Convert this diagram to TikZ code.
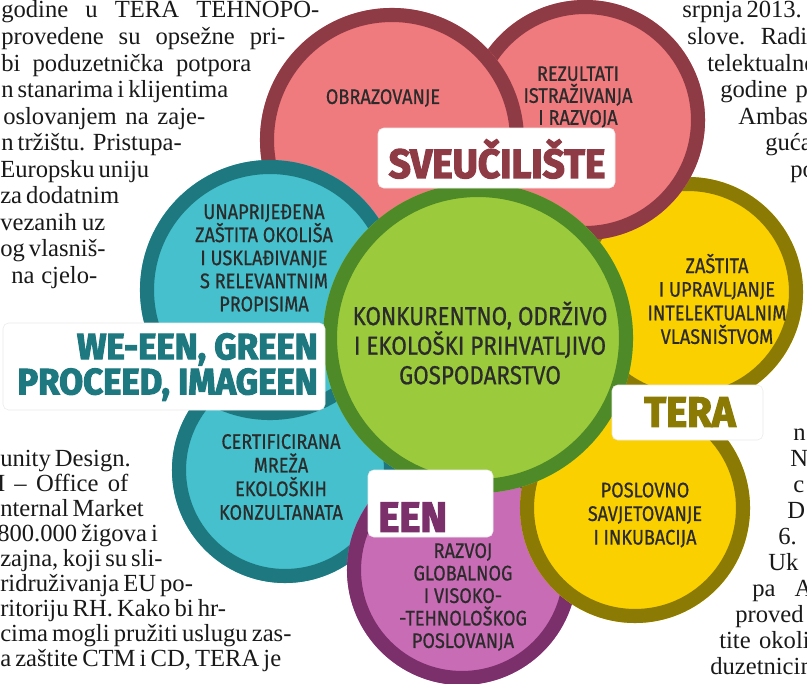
\documentclass[tikz,border=0pt]{standalone}
\usepackage{fontspec}
\setmainfont{Liberation Serif}
\newfontfamily\dinfont[FakeStretch=0.86,FakeBold=0.6]{Fira Sans}
\newfontfamily\heavyfont[FakeStretch=0.95,BoldFeatures={FakeBold=3}]{Fira Sans}
\usetikzlibrary{positioning}
\newdimen\pxlen \pxlen=0.025cm

\definecolor{pinkfill}{HTML}{EF7B7E}
\definecolor{pinkring}{HTML}{8E3B45}
\definecolor{tealfill}{HTML}{45C0CC}
\definecolor{tealring}{HTML}{1E7880}
\definecolor{greenfill}{HTML}{9BCB3C}
\definecolor{greenring}{HTML}{4E8A27}
\definecolor{yellowfill}{HTML}{FBD000}
\definecolor{yellowring}{HTML}{8B7B05}
\definecolor{purplefill}{HTML}{C96CB6}
\definecolor{purplering}{HTML}{7B2F6B}
\definecolor{inktext}{HTML}{2B2B2B}

\tikzset{petal text/.style={align=center, text=inktext, inner sep=0pt, font=\dinfont\fontsize{15}{16.8}\selectfont}}
\tikzset{tag box/.style={fill=white, draw=black!8, rounded corners=4pt}}
\tikzset{tag text/.style={inner sep=0pt, font=\heavyfont\bfseries\fontsize{29}{25}\selectfont}}
\tikzset{article line/.style={inner sep=0pt, anchor=base west, text=black!90, font=\fontsize{17.5}{20}\selectfont}}

% centre, radius, fill, ring
\newcommand\petal[4]{%
  \fill[#3] #1 circle[radius=#2];
  \draw[#4, line width=10pt] #1 circle[radius=#2-7];}
% name, x, baseline, width, text
\newcommand\artline[5]{\node[article line] (#1) at (#2,#3) {\makebox[#4\pxlen][s]{#5}};}

\begin{document}
\begin{tikzpicture}[x=0.025cm, y=-0.025cm]
\useasboundingbox (0,0) rectangle (807,683);
\clip (0,0) rectangle (807,683);
\fill[white] (0,0) rectangle (807,683);

% article columns
\artline{l1}{1}{18}{318}{godine u TERA TEHNOPO-}
\artline{l2}{1}{44.5}{284}{provedene su opsežne pri-}
\artline{l3}{1}{71}{250}{bi poduzetnička potpora}
\artline{l4}{1}{97.5}{226}{n stanarima i klijentima}
\artline{l5}{3}{124}{202}{oslovanjem na zaje-}
\artline{l6}{1}{150.5}{179}{n tržištu. Pristupa-}
\artline{l7}{0}{177}{146}{Europsku uniju}
\artline{l8}{0}{203.5}{118}{za dodatnim}
\artline{l9}{0}{230}{105}{vezanih uz}
\artline{l10}{0}{256.5}{90}{og vlasniš-}
\artline{l11}{11}{283}{86}{na cjelo-}

\artline{b1}{0}{466}{130}{unity Design.}
\artline{b2}{-17}{491}{145}{M – Office of}
\artline{b3}{0}{516}{135}{nternal Market}
\artline{b4}{-3}{541}{135}{800.000 žigova i}
\artline{b5}{0}{566}{155}{zajna, koji su sli-}
\artline{b6}{0}{591}{187}{ridruživanja EU po-}
\artline{b7}{0}{616}{213}{ritoriju RH. Kako bi hr-}
\artline{b8}{0}{641}{248}{cima mogli pružiti uslugu zas-}
\artline{b9}{0}{666}{248}{a zaštite CTM i CD, TERA je}

\artline{r1}{682}{18}{116}{srpnja 2013.}
\artline{r2}{687}{44.5}{120}{slove. Radi}
\artline{r3}{707}{71}{120}{telektualne}
\artline{r4}{720}{97.5}{100}{godine po}
\artline{r5}{738}{124}{80}{Ambas}
\artline{r6}{765}{150.5}{50}{guća}
\artline{r7}{790}{177}{30}{po}

\artline{s1}{793}{440}{20}{n}
\artline{s2}{790}{466}{20}{N}
\artline{s3}{793}{492}{20}{c}
\artline{s4}{787}{518}{25}{D}
\artline{s5}{778}{544}{30}{6.}
\artline{s6}{768}{570}{40}{Uk}
\artline{s7}{752}{596}{60}{pa A}
\artline{s8}{735}{622}{80}{proved}
\artline{s9}{719}{648}{100}{tite okoliš}
\artline{s10}{710}{674}{110}{duzetnicima}

% petals
\petal{(688,292)}{115}{yellowfill}{yellowring}
\petal{(585,120)}{120}{pinkfill}{pinkring}
\petal{(392,140)}{132}{pinkfill}{pinkring}
\petal{(285,470)}{113}{tealfill}{tealring}
\petal{(270,290)}{130}{tealfill}{tealring}
\petal{(462,570)}{115}{purplefill}{purplering}
\petal{(635,508)}{115}{yellowfill}{yellowring}
\petal{(478,338)}{155}{greenfill}{greenring}

% petal texts
\node[petal text] (obraz) at (383,98) {OBRAZOVANJE};
\node[petal text, font=\dinfont\fontsize{15}{15.6}\selectfont] (rezult) at (578,97) {REZULTATI\\ISTRAŽIVANJA\\I RAZVOJA};
\node[petal text, font=\dinfont\fontsize{15}{16.4}\selectfont] (okolis) at (264,258) {UNAPRIJEĐENA\\ZAŠTITA OKOLIŠA\\I USKLAĐIVANJE\\S RELEVANTNIM\\PROPISIMA};
\node[petal text] (intel) at (717,299) {ZAŠTITA\\I UPRAVLJANJE\\INTELEKTUALNIM\\VLASNIŠTVOM};
\node[petal text] (poslov) at (645,515) {POSLOVNO\\SAVJETOVANJE\\I INKUBACIJA};
\node[petal text, font=\dinfont\fontsize{15}{16}\selectfont] (razvoj) at (463,597) {RAZVOJ\\GLOBALNOG\\I VISOKO-\\-TEHNOLOŠKOG\\POSLOVANJA};
\node[petal text] (certif) at (281,477) {CERTIFICIRANA\\MREŽA\\EKOLOŠKIH\\KONZULTANATA};
\node[petal text, font=\dinfont\fontsize{18.5}{21}\selectfont] (gosp) at (480,343)
  {KONKURENTNO, ODRŽIVO\\I EKOLOŠKI PRIHVATLJIVO\\GOSPODARSTVO};

% tags
\draw[tag box] (378,128) rectangle (615,188);
\node[tag text, text=pinkring] (sveuc) at (497,159) {SVEUČILIŠTE};
\draw[tag box] (3,323) rectangle (325,410);
\node[tag text, text=tealring, align=right, anchor=east, font=\heavyfont\bfseries\fontsize{26}{25}\selectfont]
  (green) at (318,367) {WE-EEN, GREEN\\PROCEED, IMAGEEN};
\draw[tag box] (612,385) rectangle (763,440);
\node[tag text, text=yellowring, font=\heavyfont\bfseries\fontsize{30}{30}\selectfont] (tera) at (690,412) {TERA};
\draw[tag box] (368,470) rectangle (493,537);
\node[tag text, text=purplering, anchor=west, font=\heavyfont\bfseries\fontsize{30}{30}\selectfont] (een) at (378,517) {EEN};
\end{tikzpicture}
\end{document}
